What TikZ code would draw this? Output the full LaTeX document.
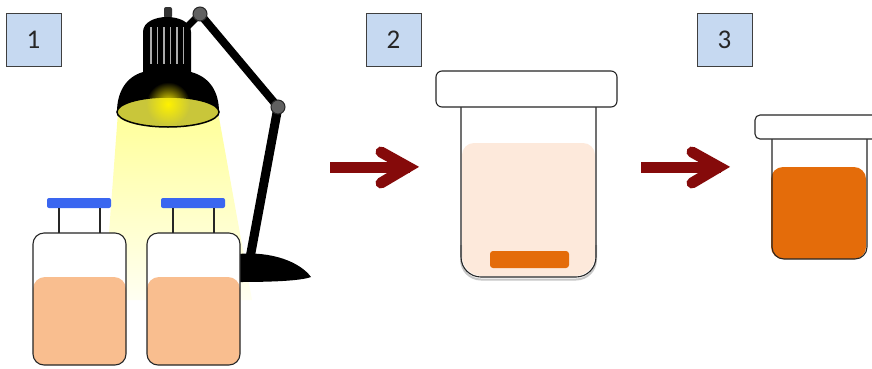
\documentclass[tikz,border=0pt]{standalone}
\usepackage{fontspec}
\setmainfont{Carlito}
\usetikzlibrary{fadings}
\definecolor{boxblue}{HTML}{C6D9F1}
\definecolor{boxline}{HTML}{3F3F3F}
\definecolor{peach}{HTML}{F9BE8F}
\definecolor{palepeach}{HTML}{FDE9DB}
\definecolor{orangefill}{HTML}{E46C0A}
\definecolor{capblue}{HTML}{3A66F0}
\definecolor{arrowred}{HTML}{850A0A}
\definecolor{lampolive}{HTML}{C9C63A}
\definecolor{conetop}{HTML}{FFFF99}
\definecolor{conebottom}{HTML}{FFFFF2}
\tikzfading[name=bulbglow, inner color=transparent!0, outer color=transparent!100]
\begin{document}
\begin{tikzpicture}[x=1pt,y=-1pt,
  stepbox/.style={draw=boxline, fill=boxblue, line width=0.8pt,
    minimum width=55pt, minimum height=53pt, inner sep=0pt,
    font=\fontsize{27}{30}\selectfont, text=black!85},
  outline/.style={draw=black!85, line width=1.1pt},
  flowarrow/.style={draw=arrowred, line width=11pt},
  arrowhead/.style={flowarrow, line cap=round, line join=miter},
  joint/.style={fill=gray!75!black, draw=black!85, line width=1pt},
]
\useasboundingbox (0,0) rectangle (872,368);
\fill[white] (0,0) rectangle (872,368);

% ---------- light cone ----------
\shade[top color=conetop, bottom color=conebottom]
  (118,112) -- (218,112) -- (252,300) -- (104,300) -- cycle;

% ---------- lamp ----------
% base and pole
\fill[black] (238,254) .. controls (272,251) and (300,262) .. (311,277)
  .. controls (300,281) and (270,282) .. (238,282) -- cycle;
\draw[black, line width=9pt] (278,107) -- (250,258);
% arm
\draw[black, line width=8pt] (200,14) -- (278,107);
\draw[black, line width=7pt] (184,30) -- (200,14);
\draw[joint] (200,14) circle (7);
\draw[joint] (278,107) circle (7);
% knob
\fill[black!80, rounded corners=2] (164,7) rectangle (172,18);
% shade
\fill[black] (143,72) -- (143,32) .. controls (143,12) and (191,12) .. (191,32)
  -- (191,72) .. controls (210,77) and (219,92) .. (219,112)
  -- (117,112) .. controls (117,92) and (126,77) .. (143,72) -- cycle;
\foreach \sx in {151,157.5,164,170.5,177,183.5}
  \draw[gray!65, line width=1.4pt] (\sx,27) -- (\sx,64);
\draw[fill=lampolive, draw=black, line width=1.5pt] (168,112) ellipse (51 and 15);
\fill[yellow, path fading=bulbglow] (168,104) circle (22);

% ---------- bottles ----------
\foreach \bx in {33,147}{
  \fill[capblue, rounded corners=2] (\bx+14,198) rectangle (\bx+78,208);
  \draw[outline] (\bx+26,208) -- (\bx+26,233);
  \draw[outline] (\bx+67,208) -- (\bx+67,233);
  \fill[white, rounded corners=11] (\bx,233) rectangle (\bx+93,365);
  \fill[peach, rounded corners=12] (\bx,277) rectangle (\bx+93,365);
  \draw[outline, rounded corners=11] (\bx,233) rectangle (\bx+93,365);
}

% ---------- arrows ----------
\coordinate (a1s) at (330,167);
\coordinate (a1e) at (410,167);
\coordinate (a1v) at (408,167);
\draw[flowarrow] (a1s) -- (a1e);
\draw[arrowhead] (381,152) -- (a1v) -- (381,183);

\coordinate (a2s) at (641,167);
\coordinate (a2e) at (721,167);
\coordinate (a2v) at (719,167);
\draw[flowarrow] (a2s) -- (a2e);
\draw[arrowhead] (692,152) -- (a2v) -- (692,183);

% ---------- jar 2 ----------
\fill[palepeach] [rounded corners=12] (462,200) -- (462,143) -- (595,143) -- (595,200)
  [rounded corners=20] -- (595,276) -- (462,276) -- cycle;
\fill[orangefill, rounded corners=3] (490,251) rectangle (569,268);
\draw[black!22, line width=2pt, rounded corners=20] (461,245) -- (461,279.5) -- (596,279.5) -- (596,245);
\draw[outline, rounded corners=20] (461,107) -- (461,277) -- (596,277) -- (596,107);
\draw[outline, fill=white, rounded corners=6] (436,71) rectangle (617,107);

% ---------- jar 3 ----------
\begin{scope}
\clip (0,0) rectangle (872,368);
\fill[orangefill, rounded corners=12] (771,167) rectangle (866,259);
\draw[outline, rounded corners=12] (772,139) -- (772,259) -- (867,259) -- (867,139);
\draw[outline, fill=white, rounded corners=5] (755,115) rectangle (885,139);
\end{scope}

% ---------- step labels ----------
\node[stepbox] (s1) at (33.5,39.5) {1};
\node[stepbox] (s2) at (393.5,39.5) {2};
\node[stepbox] (s3) at (724.5,39.5) {3};
\end{tikzpicture}
\end{document}
